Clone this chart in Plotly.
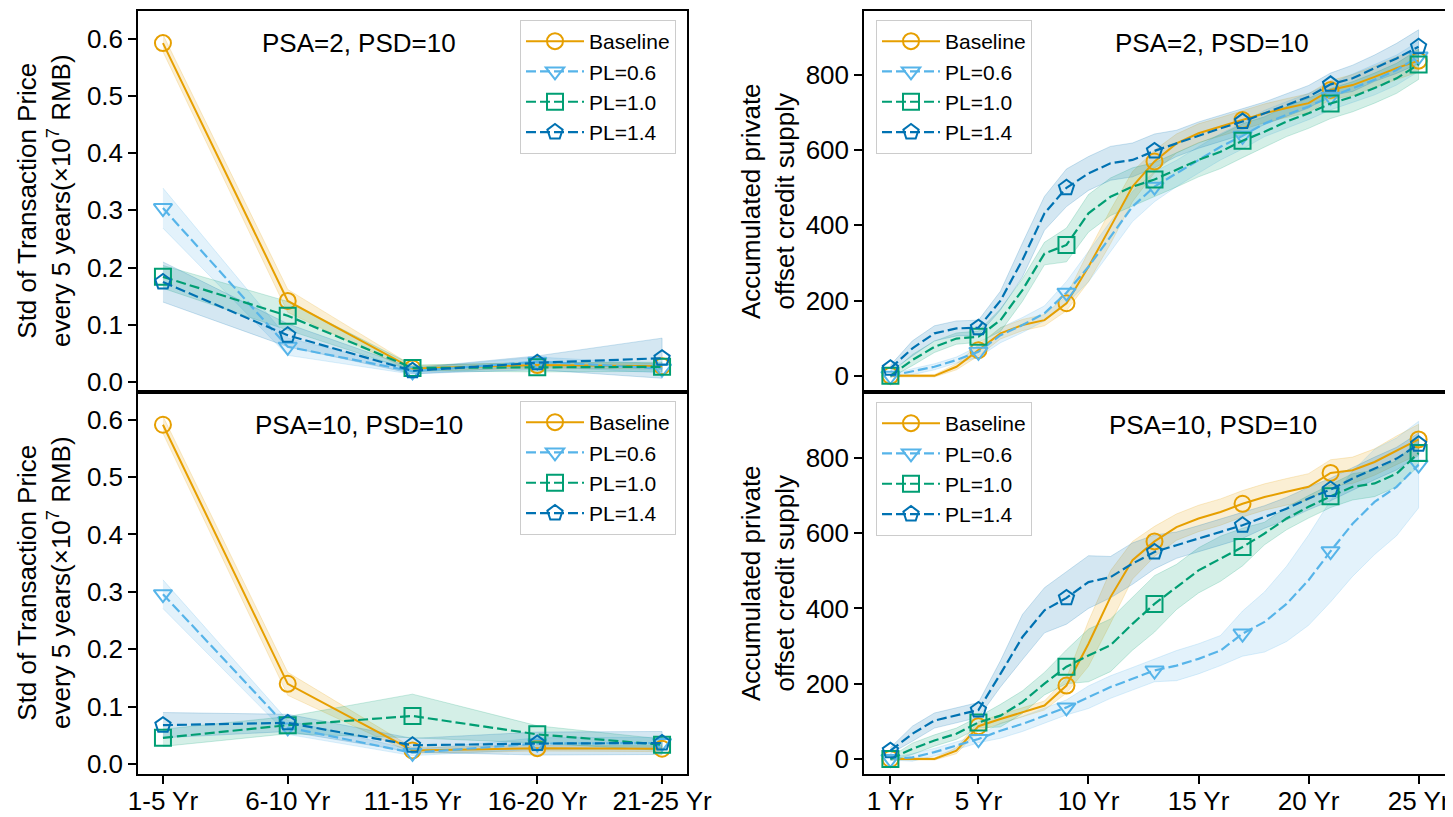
import plotly.graph_objects as go

FONT = "Liberation Sans, Arial, Helvetica, sans-serif"
PAGE_OFF = 8                      # browser body margin
W, H = 1453 - PAGE_OFF, 817 - PAGE_OFF

# ---------------- data ----------------
periods = ["1-5 Yr", "6-10 Yr", "11-15 Yr", "16-20 Yr", "21-25 Yr"]
years = list(range(1, 26))
year_ticks = [1, 5, 10, 15, 20, 25]
year_tick_labels = ["1 Yr", "5 Yr", "10 Yr", "15 Yr", "20 Yr", "25 Yr"]
price_ticks = [0.0, 0.1, 0.2, 0.3, 0.4, 0.5, 0.6]
supply_ticks = [0, 200, 400, 600, 800]

series_names = ["Baseline", "PL=0.6", "PL=1.0", "PL=1.4"]
series_colors = ["#E69F00", "#56B4E9", "#009E73", "#0072B2"]
series_symbols = ["circle-open", "triangle-down-open", "square-open", "pentagon-open"]
series_dashes = ["solid", "10px,4px", "10px,4px", "10px,4px"]

# Std of transaction price, PSA=2, PSD=10
price_psa2_base = [0.592, 0.142, 0.024, 0.030, 0.028]
price_psa2_pl06 = [0.304, 0.062, 0.019, 0.036, 0.024]
price_psa2_pl10 = [0.184, 0.116, 0.025, 0.026, 0.027]
price_psa2_pl14 = [0.175, 0.082, 0.020, 0.034, 0.042]
price_psa2_base_sd = [0.015, 0.020, 0.005, 0.005, 0.005]
price_psa2_pl06_sd = [0.035, 0.015, 0.005, 0.008, 0.008]
price_psa2_pl10_sd = [0.020, 0.025, 0.005, 0.008, 0.008]
price_psa2_pl14_sd = [0.035, 0.020, 0.005, 0.012, 0.035]

# Std of transaction price, PSA=10, PSD=10
price_psa10_base = [0.591, 0.140, 0.024, 0.028, 0.027]
price_psa10_pl06 = [0.296, 0.064, 0.020, 0.036, 0.037]
price_psa10_pl10 = [0.046, 0.068, 0.084, 0.052, 0.034]
price_psa10_pl14 = [0.068, 0.072, 0.033, 0.036, 0.037]
price_psa10_base_sd = [0.015, 0.020, 0.005, 0.005, 0.005]
price_psa10_pl06_sd = [0.025, 0.012, 0.005, 0.010, 0.010]
price_psa10_pl10_sd = [0.015, 0.015, 0.038, 0.015, 0.010]
price_psa10_pl14_sd = [0.022, 0.015, 0.012, 0.020, 0.020]

# Accumulated private offset credit supply, PSA=2, PSD=10
supply_psa2_base = [0, 0, 0, 24, 68, 113, 135, 148, 193, 290, 396, 503, 570, 618, 645, 662, 680, 698, 712, 725, 760, 773, 795, 818, 838]
supply_psa2_pl06 = [0, 11, 24, 42, 64, 108, 135, 166, 221, 290, 370, 450, 503, 538, 574, 609, 638, 671, 694, 716, 742, 765, 787, 813, 849]
supply_psa2_pl10 = [0, 42, 77, 99, 104, 148, 228, 325, 348, 432, 476, 503, 522, 547, 574, 596, 625, 649, 676, 698, 724, 742, 765, 791, 828]
supply_psa2_pl14 = [20, 73, 113, 126, 128, 200, 308, 432, 500, 538, 565, 574, 598, 618, 640, 658, 676, 698, 720, 742, 775, 791, 818, 844, 875]
supply_psa2_base_sd = [3, 3, 3, 8, 15, 15, 15, 15, 20, 40, 45, 40, 30, 25, 25, 25, 25, 25, 25, 25, 25, 28, 28, 30, 30]
supply_psa2_pl06_sd = [3, 8, 8, 8, 15, 20, 20, 20, 30, 40, 40, 40, 40, 35, 35, 35, 35, 35, 35, 35, 35, 38, 40, 40, 40]
supply_psa2_pl10_sd = [5, 15, 15, 15, 15, 30, 30, 30, 45, 50, 50, 50, 45, 45, 45, 45, 45, 40, 40, 40, 40, 40, 40, 40, 40]
supply_psa2_pl14_sd = [8, 20, 20, 20, 20, 25, 45, 45, 50, 45, 45, 45, 45, 35, 35, 35, 35, 30, 30, 30, 30, 35, 35, 40, 45]

# Accumulated private offset credit supply, PSA=10, PSD=10
supply_psa10_base = [0, 0, 0, 22, 87, 106, 124, 142, 195, 306, 430, 528, 578, 616, 639, 656, 678, 696, 710, 723, 760, 767, 789, 820, 849]
supply_psa10_pl06 = [0, 4, 18, 35, 53, 75, 93, 115, 137, 164, 191, 213, 235, 248, 266, 288, 333, 364, 412, 475, 552, 625, 683, 723, 782]
supply_psa10_pl10 = [0, 27, 49, 67, 97, 115, 151, 200, 245, 275, 302, 359, 412, 457, 501, 532, 563, 599, 639, 670, 698, 723, 732, 758, 813]
supply_psa10_pl14 = [22, 67, 102, 115, 130, 226, 324, 395, 428, 470, 483, 519, 550, 568, 585, 603, 621, 643, 665, 692, 716, 745, 772, 798, 836]
supply_psa10_base_sd = [3, 3, 3, 8, 12, 12, 12, 12, 20, 60, 70, 50, 40, 35, 35, 35, 35, 35, 35, 35, 35, 35, 35, 38, 40]
supply_psa10_pl06_sd = [3, 10, 10, 10, 10, 20, 20, 20, 20, 30, 30, 30, 30, 40, 40, 40, 60, 80, 100, 120, 135, 140, 140, 130, 115]
supply_psa10_pl10_sd = [5, 15, 15, 15, 15, 30, 30, 30, 45, 70, 70, 70, 75, 60, 60, 60, 50, 30, 30, 30, 30, 35, 35, 35, 35]
supply_psa10_pl14_sd = [8, 20, 20, 20, 20, 35, 60, 60, 70, 70, 55, 55, 45, 35, 35, 35, 35, 30, 30, 30, 30, 30, 30, 30, 30]

panel_labels = ["PSA=2, PSD=10", "PSA=2, PSD=10", "PSA=10, PSD=10", "PSA=10, PSD=10"]


def rgba(hexc, a):
    h = hexc.lstrip("#")
    return f"rgba({int(h[0:2], 16)},{int(h[2:4], 16)},{int(h[4:6], 16)},{a})"


def px(xp):
    return (xp - PAGE_OFF) / W


def py(yp):
    return 1 - (yp - PAGE_OFF) / H


fig = go.Figure()

panels = [
    dict(xa="x", ya="y", leg="legend", x=periods, every=1,
         vals=[price_psa2_base, price_psa2_pl06, price_psa2_pl10, price_psa2_pl14],
         sds=[price_psa2_base_sd, price_psa2_pl06_sd, price_psa2_pl10_sd, price_psa2_pl14_sd]),
    dict(xa="x2", ya="y2", leg="legend2", x=years, every=4,
         vals=[supply_psa2_base, supply_psa2_pl06, supply_psa2_pl10, supply_psa2_pl14],
         sds=[supply_psa2_base_sd, supply_psa2_pl06_sd, supply_psa2_pl10_sd, supply_psa2_pl14_sd]),
    dict(xa="x3", ya="y3", leg="legend3", x=periods, every=1,
         vals=[price_psa10_base, price_psa10_pl06, price_psa10_pl10, price_psa10_pl14],
         sds=[price_psa10_base_sd, price_psa10_pl06_sd, price_psa10_pl10_sd, price_psa10_pl14_sd]),
    dict(xa="x4", ya="y4", leg="legend4", x=years, every=4,
         vals=[supply_psa10_base, supply_psa10_pl06, supply_psa10_pl10, supply_psa10_pl14],
         sds=[supply_psa10_base_sd, supply_psa10_pl06_sd, supply_psa10_pl10_sd, supply_psa10_pl14_sd]),
]

for p in panels:
    xs = list(p["x"])
    for i in range(4):
        v, s = p["vals"][i], p["sds"][i]
        up = [a + b for a, b in zip(v, s)]
        lo = [a - b for a, b in zip(v, s)]
        fig.add_trace(go.Scatter(
            x=xs + xs[::-1], y=up + lo[::-1], xaxis=p["xa"], yaxis=p["ya"],
            mode="lines", fill="toself", fillcolor=rgba(series_colors[i], 0.17),
            line=dict(color=rgba(series_colors[i], 0.2), width=1),
            hoverinfo="skip", showlegend=False))
    for i in range(4):
        v = p["vals"][i]
        line = dict(color=series_colors[i], width=2.2 if i else 2, dash=series_dashes[i])
        marker = dict(symbol=series_symbols[i], size=16, color=series_colors[i],
                      line=dict(width=2, color=series_colors[i]))
        fig.add_trace(go.Scatter(
            x=xs, y=v, xaxis=p["xa"], yaxis=p["ya"], mode="lines",
            line=line, showlegend=False, hoverinfo="skip"))
        fig.add_trace(go.Scatter(
            x=xs[::p["every"]], y=v[::p["every"]], xaxis=p["xa"], yaxis=p["ya"],
            mode="markers", marker=marker, showlegend=False))
        fig.add_trace(go.Scatter(
            x=[None], y=[None], xaxis=p["xa"], yaxis=p["ya"], mode="lines+markers",
            line=line, marker=marker, name=series_names[i], legend=p["leg"],
            showlegend=True))

LX = [px(138), px(687)]
RX = [px(864), px(1445)]
TY = [py(392), py(11)]
BY = [py(774), py(392)]

axis_common = dict(showline=True, mirror=True, linecolor="black", linewidth=1.5,
                   showgrid=False, zeroline=False, ticks="outside", ticklen=8,
                   tickwidth=1.5, tickcolor="black", automargin=False,
                   tickfont=dict(family=FONT, size=26, color="black"))

fig.update_layout(
    width=W, height=H, autosize=False,
    margin=dict(l=0, r=0, t=0, b=0, autoexpand=False),
    paper_bgcolor="white", plot_bgcolor="white",
    font=dict(family=FONT, color="black"),
    xaxis=dict(axis_common, domain=LX, anchor="y", type="category",
               categoryorder="array", categoryarray=periods,
               range=[-0.2, 4.2], showticklabels=False, ticks=""),
    xaxis3=dict(axis_common, domain=LX, anchor="y3", type="category",
                categoryorder="array", categoryarray=periods,
                range=[-0.2, 4.2], ticklabelstandoff=-5),
    xaxis2=dict(axis_common, domain=RX, anchor="y2", range=[-0.2, 26.2],
                tickvals=year_ticks, ticktext=year_tick_labels,
                showticklabels=False, ticks=""),
    xaxis4=dict(axis_common, domain=RX, anchor="y4", range=[-0.2, 26.2],
                tickvals=year_ticks, ticktext=year_tick_labels,
                ticklabelstandoff=-5),
    yaxis=dict(axis_common, domain=TY, anchor="x", range=[-0.017, 0.648],
               tickvals=price_ticks, tickformat=".1f"),
    yaxis3=dict(axis_common, domain=BY, anchor="x3", range=[-0.017, 0.648],
                tickvals=price_ticks, tickformat=".1f"),
    yaxis2=dict(axis_common, domain=TY, anchor="x2", range=[-43, 970],
                tickvals=supply_ticks),
    yaxis4=dict(axis_common, domain=BY, anchor="x4", range=[-40, 975],
                tickvals=supply_ticks),
)

leg_common = dict(bgcolor="rgba(255,255,255,0.8)", bordercolor="#cccccc", borderwidth=1,
                  font=dict(family=FONT, size=21, color="black"), itemwidth=58,
                  yanchor="top", tracegroupgap=0)
fig.update_layout(
    legend=dict(leg_common, x=px(676), xanchor="right", y=py(20)),
    legend2=dict(leg_common, x=px(876), xanchor="left", y=py(20)),
    legend3=dict(leg_common, x=px(676), xanchor="right", y=py(401)),
    legend4=dict(leg_common, x=px(876), xanchor="left", y=py(402)),
)

ann = []
label_pos = [(359, 43), (1212, 43), (359, 425), (1213, 425)]
for (lx, ly), txt in zip(label_pos, panel_labels):
    ann.append(dict(x=px(lx), y=py(ly), xref="paper", yref="paper", text=txt,
                    showarrow=False, xanchor="center", yanchor="middle",
                    font=dict(family=FONT, size=26, color="black")))
ytitles = [
    (44, 201, "Std of Transaction Price<br>every 5 years(×10<sup>7</sup> RMB)"),
    (44, 583, "Std of Transaction Price<br>every 5 years(×10<sup>7</sup> RMB)"),
    (768, 201, "Accumulated private<br>offset credit supply"),
    (768, 583, "Accumulated private<br>offset credit supply"),
]
for tx, ty, txt in ytitles:
    ann.append(dict(x=px(tx), y=py(ty), xref="paper", yref="paper", text=txt,
                    showarrow=False, xanchor="center", yanchor="middle", textangle=-90,
                    font=dict(family=FONT, size=26, color="black")))
fig.update_layout(annotations=ann)

fig.write_html("out.html")
